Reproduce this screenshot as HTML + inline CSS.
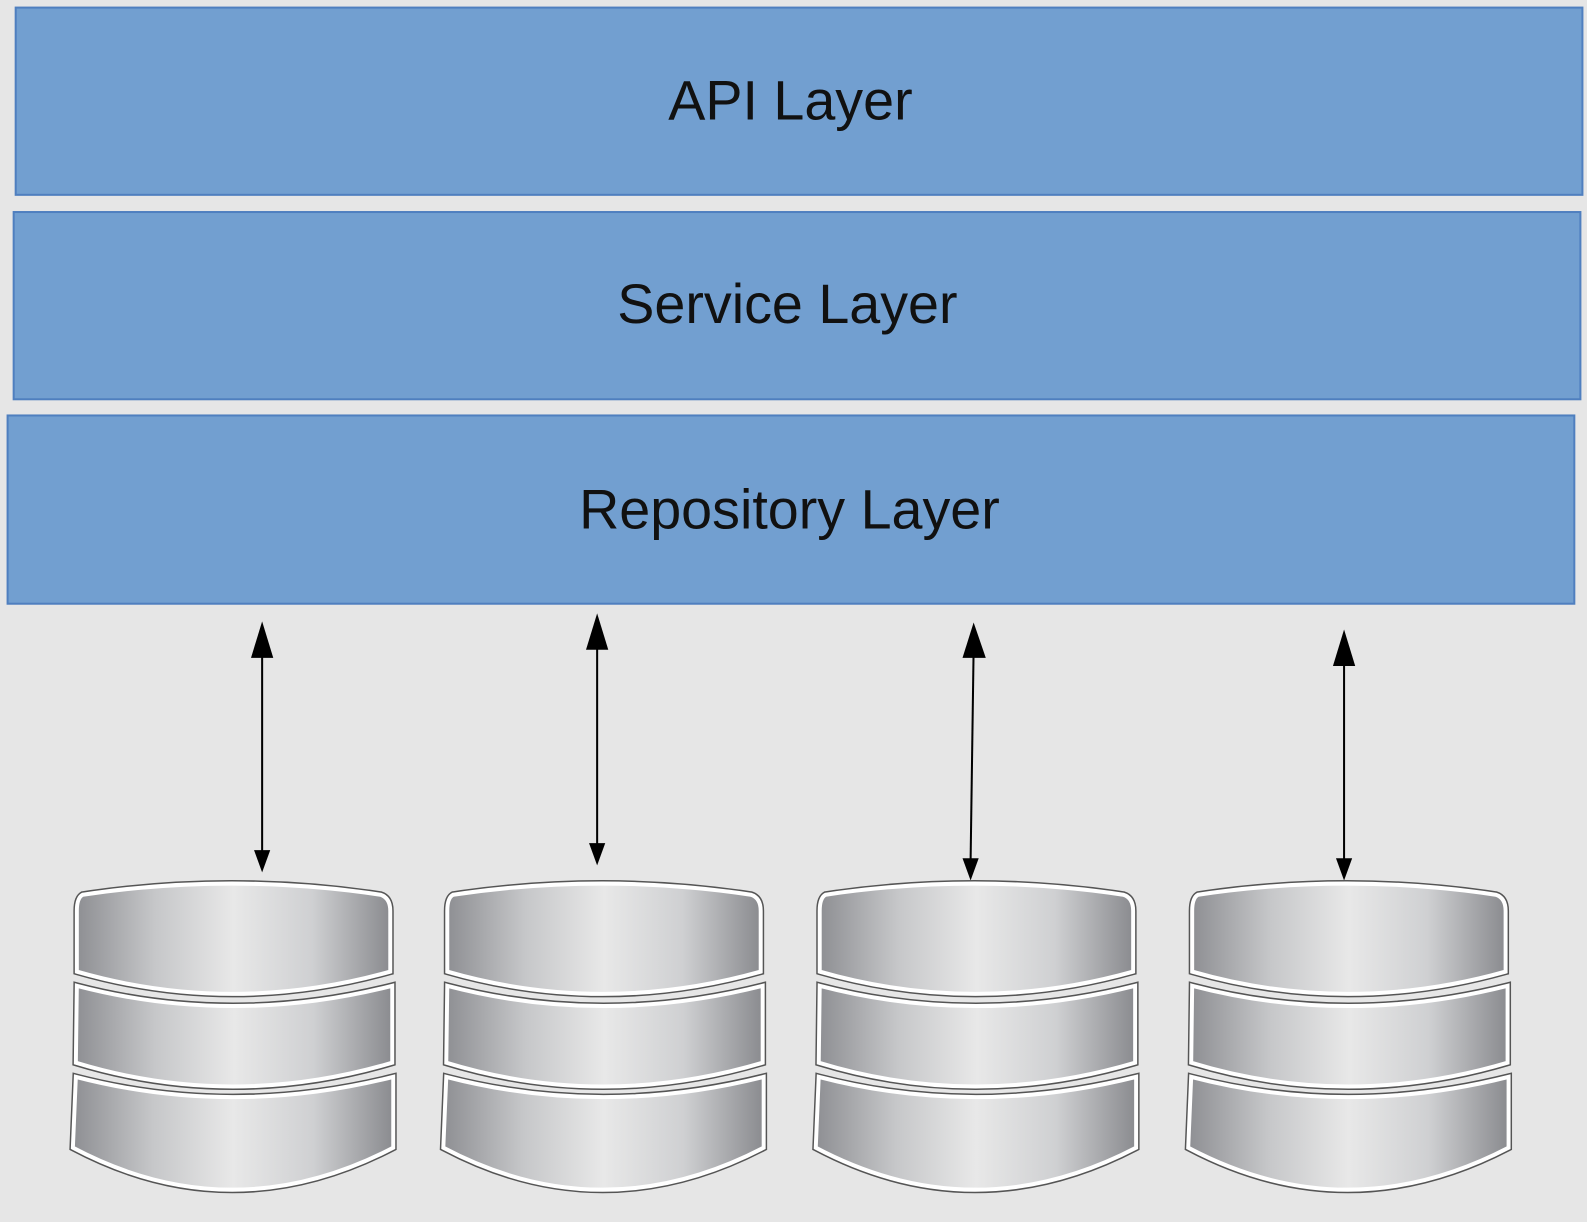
<!DOCTYPE html>
<html><head><meta charset="utf-8"><style>
html,body{margin:0;padding:0;background:#e6e6e6;}
svg{display:block}
text{font-family:"Liberation Sans",sans-serif;font-size:55px;fill:#111;}
</style></head><body>
<svg width="1587" height="1222" viewBox="0 0 1587 1222" xmlns="http://www.w3.org/2000/svg">
<defs>
<linearGradient id="g" x1="0" x2="1" y1="0" y2="0">
<stop offset="0" stop-color="#8e8f93"/>
<stop offset="0.25" stop-color="#c6c7c9"/>
<stop offset="0.5" stop-color="#e8e8e8"/>
<stop offset="0.75" stop-color="#cfd0d2"/>
<stop offset="1" stop-color="#8a8b8f"/>
</linearGradient>
<g id="db" transform="scale(0.98,1)">
<path d="M10,42 Q160,20 310,42 Q320,45 320,58 L320,118 Q160,162 4,118 L4,58 Q4,45 10,42 Z" fill="url(#g)" stroke="#555" stroke-width="7"/>
<path d="M10,42 Q160,20 310,42 Q320,45 320,58 L320,118 Q160,162 4,118 L4,58 Q4,45 10,42 Z" fill="url(#g)" stroke="#fff" stroke-width="4"/>
<path d="M4,132 Q160,172 322,132 L322,208 Q160,255 3,208 Z" fill="url(#g)" stroke="#555" stroke-width="7"/>
<path d="M4,132 Q160,172 322,132 L322,208 Q160,255 3,208 Z" fill="url(#g)" stroke="#fff" stroke-width="4"/>
<path d="M3,222 Q160,262 323,222 L323,292 Q160,375 0,292 Z" fill="url(#g)" stroke="#555" stroke-width="7"/>
<path d="M3,222 Q160,262 323,222 L323,292 Q160,375 0,292 Z" fill="url(#g)" stroke="#fff" stroke-width="4"/>
</g>
</defs>
<g transform="scale(1.0121)">
<rect x="15.5" y="7.5" width="1548" height="185" fill="#729fd0" stroke="#4f7fbf" stroke-width="2"/>
<rect x="13.5" y="209.5" width="1548" height="185" fill="#729fd0" stroke="#4f7fbf" stroke-width="2"/>
<rect x="7.5" y="410.5" width="1548" height="186" fill="#729fd0" stroke="#4f7fbf" stroke-width="2"/>
<text x="781" y="118" text-anchor="middle">API Layer</text>
<text x="778" y="319" text-anchor="middle">Service Layer</text>
<text x="780" y="522" text-anchor="middle">Repository Layer</text>
<g stroke="#000" stroke-width="2">
<line x1="259" y1="640" x2="259" y2="842"/>
<line x1="590" y1="632" x2="590" y2="835"/>
<line x1="962" y1="640" x2="959" y2="850"/>
<line x1="1328" y1="648" x2="1328" y2="850"/>
</g>
<g fill="#000">
<polygon points="259,614 248,650 270,650"/>
<polygon points="259,862 251,840 267,840"/>
<polygon points="590,606 579,642 601,642"/>
<polygon points="590,855 582,833 598,833"/>
<polygon points="962,615 951,650 974,650"/>
<polygon points="959,870 951,848 967,848"/>
<polygon points="1328,622 1317,658 1339,658"/>
<polygon points="1328,870 1320,848 1336,848"/>
</g>
<use href="#db" x="72" y="842"/>
<use href="#db" x="438" y="842"/>
<use href="#db" x="806" y="842"/>
<use href="#db" x="1174" y="842"/>
</g>
</svg>
</body></html>
